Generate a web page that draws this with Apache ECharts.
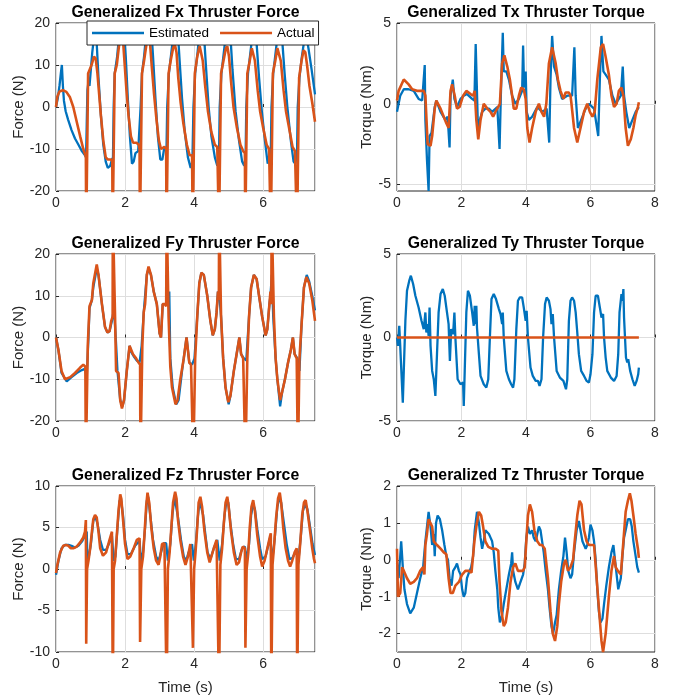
<!DOCTYPE html>
<html>
<head>
<meta charset="utf-8">
<script src="https://cdn.jsdelivr.net/npm/echarts@6/dist/echarts.min.js"></script>
<style>
  html, body { margin: 0; padding: 0; background: #ffffff; }
  #chart { width: 678px; height: 700px; }
</style>
</head>
<body>
<div id="chart"></div>
<script>
// Generalized thruster forces and torques: estimated vs actual, [time (s), value]

const fxEstimated = [[0,0],[0.05,2],[0.1,5],[0.14,8],[0.17,10],[0.2,5],[0.23,1.5],[0.28,-1],[0.35,-3],[0.45,-5.5],[0.55,-7.5],[0.65,-9],[0.75,-10.5],[0.84,-11.5],[0.87,-12],[0.89,-4],[0.91,4],[0.94,6],[0.97,5],[1.0,8],[1.05,13],[1.1,16.5],[1.14,17],[1.18,15],[1.23,7],[1.3,-2],[1.37,-9],[1.44,-13],[1.5,-14.5],[1.57,-14],[1.62,-12.5],[1.65,-12],[1.67,0],[1.7,8],[1.77,12],[1.84,18],[1.9,21],[1.96,20],[2.02,12],[2.08,2],[2.14,-7],[2.2,-13.5],[2.25,-13],[2.3,-11],[2.38,-10.5],[2.43,-10.5],[2.45,0],[2.49,8],[2.55,12],[2.62,18],[2.69,22],[2.75,20],[2.81,12],[2.88,2],[2.95,-7],[3.02,-12.5],[3.08,-12.5],[3.13,-10],[3.2,-10],[3.22,0],[3.27,8],[3.34,13],[3.41,18],[3.47,21],[3.52,19],[3.58,11],[3.65,2],[3.73,-6],[3.82,-12],[3.9,-14.5],[3.95,-13],[3.98,0],[4.03,8],[4.1,13],[4.17,19],[4.23,21],[4.28,18],[4.34,10],[4.42,0],[4.5,-7],[4.6,-12],[4.67,-14],[4.72,-12],[4.74,0],[4.79,8],[4.86,13],[4.93,18],[4.99,20],[5.05,17],[5.11,9],[5.2,-1],[5.3,-8],[5.39,-13],[5.45,-14],[5.49,-12],[5.51,0],[5.56,8],[5.63,13],[5.7,18],[5.76,19],[5.81,15],[5.88,7],[5.96,-1],[6.05,-8],[6.13,-13.5],[6.18,-13.5],[6.22,-11],[6.24,0],[6.29,8],[6.36,13],[6.43,18],[6.49,20],[6.55,16],[6.62,8],[6.7,0],[6.8,-8],[6.88,-13],[6.93,-13.5],[6.98,-11],[7.0,0],[7.05,7],[7.12,12],[7.19,16],[7.25,17],[7.31,14],[7.4,9],[7.5,3]];

const fxActual = [[0,0],[0.04,2.5],[0.1,3.7],[0.2,4],[0.3,3.6],[0.4,2.4],[0.5,0],[0.6,-3.5],[0.7,-7],[0.79,-10],[0.85,-11.5],[0.865,-12],[0.875,-30],[0.89,-30],[0.93,8],[0.98,9],[1.03,10],[1.1,12],[1.15,11.5],[1.2,8],[1.25,3],[1.3,-2],[1.37,-8],[1.44,-12],[1.5,-12.5],[1.6,-12.5],[1.63,-13],[1.64,-30],[1.655,-30],[1.7,8],[1.76,10],[1.83,15],[1.89,17.5],[1.94,16],[1.99,10],[2.04,4],[2.1,-2],[2.17,-7],[2.23,-8.5],[2.33,-8.5],[2.4,-9],[2.42,-10],[2.43,-30],[2.445,-30],[2.49,8],[2.55,11],[2.62,15],[2.67,16.5],[2.72,15.5],[2.77,10],[2.84,3],[2.91,-3],[2.98,-8],[3.04,-10],[3.14,-9.5],[3.19,-10],[3.2,-30],[3.215,-30],[3.26,8],[3.32,11],[3.39,14],[3.44,15],[3.49,13],[3.54,7],[3.61,1],[3.69,-4],[3.79,-9],[3.87,-11.5],[3.94,-11.5],[3.96,-30],[3.975,-30],[4.02,8],[4.09,12],[4.16,14.5],[4.2,14.5],[4.25,11],[4.32,5],[4.4,-1],[4.5,-6],[4.6,-9],[4.67,-9.5],[4.71,-9.5],[4.72,-30],[4.735,-30],[4.78,8],[4.85,11],[4.92,14],[4.96,14.5],[5.01,12],[5.07,6],[5.14,0],[5.24,-5],[5.34,-9],[5.42,-10.5],[5.47,-11],[5.48,-30],[5.495,-30],[5.54,8],[5.61,11],[5.67,14],[5.71,14],[5.76,11],[5.84,4],[5.91,-1],[6.0,-5],[6.1,-9],[6.17,-10],[6.21,-10],[6.22,-30],[6.235,-30],[6.28,8],[6.35,11],[6.41,14],[6.46,14],[6.51,11],[6.59,4],[6.66,-1],[6.75,-5],[6.85,-9.5],[6.92,-10.5],[6.97,-10.5],[6.98,-30],[6.995,-30],[7.04,7],[7.11,11],[7.17,13.5],[7.22,13],[7.27,10],[7.34,5],[7.42,1],[7.5,-3.5]];

const txEstimated = [[0,-0.5],[0.05,0],[0.1,0.5],[0.21,0.9],[0.36,0.9],[0.52,0.8],[0.67,0.3],[0.78,0.2],[0.84,0.3],[0.86,2.4],[0.88,-1],[0.93,-3.5],[0.98,-5.4],[1.01,-2],[1.07,-1.8],[1.17,-0.2],[1.22,0.2],[1.35,-0.5],[1.5,-1],[1.57,-0.8],[1.63,-2.7],[1.66,0.5],[1.73,1.5],[1.78,0.3],[1.86,-0.2],[1.97,0.3],[2.07,0.5],[2.17,0.6],[2.33,0.3],[2.4,0.2],[2.44,3.7],[2.48,3.6],[2.51,-1.5],[2.57,-1],[2.64,-0.5],[2.74,-0.3],[2.85,-0.3],[2.95,-0.5],[3.11,-0.2],[3.18,-2.8],[3.22,0.5],[3.28,4.4],[3.31,2],[3.39,2],[3.47,1.5],[3.57,0.5],[3.67,0],[3.78,0.3],[3.88,0.8],[3.91,3.6],[3.94,1],[3.99,2],[4.02,-0.5],[4.09,-1],[4.19,-0.8],[4.35,-0.2],[4.5,-0.5],[4.64,-0.3],[4.72,-2.4],[4.76,1.5],[4.81,4.2],[4.87,2.3],[4.95,1.8],[5.02,1],[5.12,0.3],[5.28,0.5],[5.43,0.5],[5.5,3.5],[5.54,0.5],[5.61,-1.5],[5.71,-1],[5.85,-0.3],[5.95,0],[6.11,-0.3],[6.24,-2],[6.29,1.5],[6.34,4.2],[6.4,2],[6.47,1.8],[6.57,1.5],[6.68,0.5],[6.78,0],[6.94,0.5],[7.0,2.3],[7.04,0.5],[7.11,-0.5],[7.2,-1.5],[7.3,-1],[7.4,-0.5],[7.5,-0.2]];

const txActual = [[0,0.2],[0.05,0.8],[0.21,1.5],[0.36,1.2],[0.47,0.9],[0.62,0.8],[0.83,0.8],[0.88,0.5],[0.95,-2.5],[1.04,-2.6],[1.09,-2],[1.17,-0.3],[1.22,0.2],[1.35,-0.3],[1.45,-0.8],[1.53,-1.2],[1.6,-1.5],[1.66,0.8],[1.71,1.2],[1.79,0.5],[1.86,-0.3],[1.94,-0.2],[2.05,0.5],[2.15,0.8],[2.28,0.6],[2.36,0.5],[2.41,0.8],[2.46,-1],[2.52,-2.2],[2.59,-1],[2.69,0],[2.8,-0.3],[2.9,-0.5],[2.98,-0.8],[3.05,-0.5],[3.11,-0.6],[3.19,0],[3.26,2.5],[3.33,3],[3.42,2.3],[3.5,1.5],[3.57,0.5],[3.62,-0.3],[3.7,-0.3],[3.78,0.5],[3.85,1],[3.93,0.9],[3.99,0.3],[4.04,-1.5],[4.11,-2.4],[4.19,-1.5],[4.3,-0.5],[4.4,0],[4.48,-0.5],[4.56,-0.8],[4.63,0],[4.71,2.5],[4.81,3.5],[4.92,2.5],[4.99,1.5],[5.07,0.8],[5.16,0.3],[5.23,0.7],[5.33,0.7],[5.38,0.5],[5.41,0],[5.49,-1.5],[5.59,-2.4],[5.69,-1.5],[5.8,-0.5],[5.9,0],[5.98,-0.5],[6.06,-0.8],[6.13,-0.5],[6.21,1.5],[6.32,3.5],[6.39,3.7],[6.46,3],[6.57,1.8],[6.65,0.5],[6.73,-0.2],[6.81,0],[6.88,0.8],[6.96,1],[7.02,0.5],[7.09,-1.5],[7.16,-2.6],[7.25,-2.2],[7.33,-1.5],[7.4,-0.7],[7.47,-0.2],[7.5,0.1]];

const fyEstimated = [[0,0],[0.07,-3],[0.16,-8.5],[0.31,-10.5],[0.45,-9.5],[0.6,-8.5],[0.75,-7.8],[0.84,-7.5],[0.89,-9.5],[0.94,0],[0.97,7],[1.04,9],[1.08,12],[1.18,16.5],[1.23,15],[1.33,8],[1.42,2.5],[1.49,1.2],[1.55,1.5],[1.62,4],[1.68,7],[1.73,0],[1.78,-8],[1.86,-15],[1.92,-16.5],[1.97,-15],[2.05,-8],[2.13,-2],[2.18,-3.5],[2.25,-4.5],[2.34,-5.5],[2.42,-6],[2.48,-2],[2.54,6],[2.63,15],[2.68,16.5],[2.75,15],[2.83,11],[2.92,8],[3.0,1],[3.04,0],[3.09,8],[3.17,8],[3.23,8],[3.28,11],[3.31,-5],[3.38,-12],[3.48,-16],[3.55,-15],[3.65,-8],[3.78,0],[3.81,0],[3.86,-6],[3.94,-6.5],[4.01,-5],[4.09,5],[4.15,13],[4.21,15.5],[4.28,15],[4.38,10],[4.47,4],[4.54,0.5],[4.6,2],[4.65,6],[4.69,11],[4.73,10],[4.78,5],[4.84,-5],[4.91,-12],[5.0,-16],[5.05,-14],[5.15,-8],[5.25,-3],[5.31,0],[5.36,-4],[5.44,-5],[5.51,-5.5],[5.59,5],[5.65,12],[5.73,15],[5.81,14],[5.88,10],[5.97,5],[6.07,0.5],[6.12,2],[6.18,8],[6.21,10],[6.25,15],[6.29,5],[6.36,-5],[6.41,-10],[6.49,-16.5],[6.55,-13],[6.63,-10],[6.72,-6],[6.8,-3],[6.86,0],[6.91,-4],[6.99,-5],[7.05,-8],[7.11,3],[7.18,12],[7.26,15],[7.33,13.5],[7.42,10],[7.5,6.5]];

const fyActual = [[0,0],[0.07,-3],[0.16,-8],[0.26,-10],[0.41,-9.5],[0.55,-8.5],[0.7,-7.2],[0.79,-6.5],[0.85,-7],[0.865,-30],[0.88,-30],[0.92,-2],[0.97,7.5],[1.04,9],[1.08,13],[1.18,17.5],[1.23,15],[1.33,8],[1.42,2.5],[1.49,1.2],[1.55,1.5],[1.6,4],[1.64,5],[1.645,30],[1.66,30],[1.71,5],[1.74,-8],[1.81,-8.5],[1.86,-15],[1.91,-17],[1.97,-15],[2.05,-8],[2.13,-2],[2.18,-3],[2.23,-4],[2.32,-5],[2.39,-6],[2.435,-6.5],[2.445,-30],[2.46,-30],[2.5,-2],[2.54,6],[2.58,8],[2.63,15],[2.68,17],[2.75,15],[2.83,11],[2.92,8],[3.0,1],[3.04,0],[3.09,8],[3.15,8],[3.19,7.5],[3.205,30],[3.22,30],[3.26,5],[3.31,-7],[3.36,-12],[3.46,-16],[3.52,-15],[3.6,-10],[3.7,-5],[3.78,0],[3.81,0],[3.86,-6],[3.91,-6.5],[3.965,-6.5],[3.975,-30],[3.99,-30],[4.03,-5],[4.09,5],[4.15,13],[4.21,15.5],[4.28,15],[4.38,10],[4.47,4],[4.54,0.5],[4.6,2],[4.65,6],[4.69,11],[4.715,9],[4.725,30],[4.74,30],[4.78,5],[4.84,-5],[4.91,-12],[4.99,-15.5],[5.05,-14],[5.15,-8],[5.25,-3],[5.31,0],[5.36,-4],[5.42,-5],[5.475,-5],[5.485,-30],[5.5,-30],[5.54,-5],[5.59,5],[5.65,12],[5.73,15],[5.81,14],[5.88,10],[5.97,5],[6.07,0.5],[6.12,2],[6.18,8],[6.21,11],[6.235,8],[6.245,30],[6.26,30],[6.31,5],[6.36,-5],[6.41,-10],[6.49,-15],[6.55,-13],[6.63,-10],[6.72,-6],[6.8,-3],[6.86,0],[6.91,-4],[6.97,-5],[6.995,-5],[7.005,-30],[7.02,-30],[7.05,-5],[7.11,3],[7.18,12],[7.25,14.5],[7.33,13],[7.42,9],[7.5,4]];

const tyEstimated = [[0,0],[0.03,-0.5],[0.07,0.7],[0.1,-0.5],[0.13,-1.8],[0.18,-3.9],[0.21,-2],[0.26,1],[0.31,2.8],[0.38,3.4],[0.43,3.7],[0.5,3.2],[0.57,2.5],[0.67,1.8],[0.76,1],[0.83,0.5],[0.88,1.5],[0.91,0.3],[0.95,0.8],[0.98,0.1],[1.01,1.8],[1.04,-0.5],[1.09,-2],[1.14,-2.5],[1.19,-3.5],[1.24,-1],[1.29,1.5],[1.35,2.6],[1.42,2.9],[1.48,2.5],[1.55,1.5],[1.6,0.8],[1.64,-1.4],[1.68,0.5],[1.74,0.2],[1.78,1.5],[1.81,0],[1.88,-2.5],[1.97,-2.8],[2.05,-2.7],[2.07,-4.1],[2.1,-2],[2.15,1.5],[2.2,2.8],[2.26,2.5],[2.33,1.5],[2.38,0.7],[2.41,1.9],[2.43,0.8],[2.46,1.9],[2.48,0.6],[2.54,-1],[2.59,-2.3],[2.69,-2.8],[2.77,-3],[2.83,-2.5],[2.88,0],[2.93,2.3],[3.0,2.6],[3.07,2.3],[3.16,1.7],[3.21,1.4],[3.26,0.8],[3.28,1.5],[3.31,0],[3.39,-2],[3.47,-2.5],[3.54,-2.8],[3.6,-3],[3.64,-2.5],[3.7,0.5],[3.75,2.2],[3.81,2.4],[3.88,2.4],[3.93,1.8],[3.99,1],[4.02,1.6],[4.06,0],[4.14,-1.8],[4.21,-2.3],[4.3,-2.6],[4.37,-2.6],[4.42,-2.9],[4.48,-2.5],[4.53,0],[4.59,2],[4.64,2.4],[4.71,2.2],[4.76,1.7],[4.79,0.8],[4.83,1.4],[4.87,0],[4.95,-2],[5.05,-2.4],[5.16,-2.6],[5.24,-3.1],[5.28,-2.5],[5.33,1],[5.38,2.2],[5.43,2.4],[5.49,2.2],[5.54,1.5],[5.59,0.3],[5.64,-1],[5.71,-2],[5.8,-2.3],[5.88,-2.6],[5.95,-2.7],[6.0,-2.2],[6.06,-1],[6.11,1.5],[6.16,2.5],[6.23,2.5],[6.29,1.8],[6.34,1.2],[6.39,1.4],[6.42,0],[6.47,-1.2],[6.52,-2],[6.63,-2.4],[6.73,-2.6],[6.81,-2.3],[6.86,-1],[6.9,1.5],[6.96,2.6],[6.99,2.2],[7.02,2.9],[7.04,1.2],[7.07,0],[7.1,-1.2],[7.14,-1.5],[7.17,-1.3],[7.23,-2],[7.3,-2.5],[7.37,-2.9],[7.43,-2.6],[7.48,-2.2],[7.5,-1.8]];

const tyActual = [[0,0],[7.5,0]];

const fzEstimated = [[0,-0.7],[0.07,1],[0.16,2.5],[0.26,2.9],[0.36,2.9],[0.45,2.8],[0.55,2.6],[0.65,2.8],[0.75,3.3],[0.84,4],[0.89,4.5],[0.91,1],[0.95,1.5],[1.01,3],[1.08,5.8],[1.14,6.3],[1.2,5.5],[1.28,3.5],[1.36,2.3],[1.45,2.3],[1.55,3.2],[1.62,4],[1.67,1],[1.72,1.5],[1.78,5],[1.84,8.2],[1.88,8.5],[1.94,6.5],[2.0,3.5],[2.07,1.8],[2.17,1.8],[2.29,2.8],[2.42,3.4],[2.46,1],[2.52,2],[2.58,5],[2.63,8.2],[2.67,8.7],[2.73,6.5],[2.81,3.5],[2.9,1.5],[2.97,1],[3.04,2],[3.12,3.1],[3.19,3.1],[3.24,1],[3.31,3],[3.37,6.5],[3.43,8.7],[3.48,8.5],[3.53,6.3],[3.62,3.5],[3.7,1.5],[3.77,1],[3.84,2],[3.94,3],[3.99,1],[4.05,3],[4.1,6],[4.16,8.2],[4.2,8.3],[4.26,6.5],[4.33,4],[4.39,2],[4.47,1.2],[4.57,2.5],[4.67,3.5],[4.74,1],[4.81,3],[4.88,6.5],[4.94,8.3],[4.99,8],[5.05,5.5],[5.13,3],[5.21,1.2],[5.3,1.2],[5.39,2.5],[5.47,2.7],[5.51,1],[5.59,3],[5.65,6.5],[5.71,7.8],[5.76,7.2],[5.83,4.8],[5.91,2.5],[5.97,1.2],[6.07,1.5],[6.2,3.8],[6.26,1],[6.33,3.5],[6.41,7.5],[6.47,8.6],[6.52,8],[6.6,5.5],[6.68,3],[6.76,1.2],[6.84,1.3],[6.97,2.3],[7.02,1],[7.09,4],[7.15,7],[7.21,7.8],[7.28,7.2],[7.36,5],[7.43,3],[7.5,1.7]];

const fzActual = [[0,-0.5],[0.04,0.5],[0.12,2],[0.21,2.8],[0.29,2.9],[0.36,2.8],[0.43,2.5],[0.5,2.5],[0.6,2.7],[0.7,3.2],[0.79,3.8],[0.84,4.5],[0.865,5.9],[0.875,-9],[0.89,-9],[0.9,0],[0.94,1],[0.99,2.5],[1.04,4.5],[1.08,6],[1.13,6.5],[1.18,6.2],[1.23,4.5],[1.28,2.5],[1.36,1.6],[1.45,2],[1.55,3.5],[1.62,4.5],[1.635,4.5],[1.645,-15],[1.66,-15],[1.67,0],[1.71,1],[1.76,4],[1.81,7],[1.86,9],[1.89,8.5],[1.94,6],[2.0,3],[2.07,1.2],[2.15,1.5],[2.25,2.5],[2.34,3.5],[2.42,3.7],[2.435,-8.8],[2.445,-8.8],[2.47,0],[2.52,1.5],[2.56,4],[2.61,7.5],[2.65,9.2],[2.7,8],[2.76,5],[2.83,2.5],[2.9,1],[2.97,0.5],[3.02,1.5],[3.07,3],[3.14,3.1],[3.19,3.1],[3.205,-15],[3.22,-15],[3.24,0],[3.29,2],[3.34,5],[3.39,8],[3.45,9.3],[3.49,8.5],[3.53,6],[3.6,3.5],[3.68,1.5],[3.75,0.5],[3.82,1.5],[3.89,3],[3.94,3],[3.965,-9.5],[3.975,-9.5],[4.0,0],[4.04,2],[4.09,5],[4.13,8],[4.18,8.7],[4.23,7.5],[4.3,4.5],[4.38,2],[4.45,0.8],[4.5,1],[4.57,2.5],[4.65,3.5],[4.69,3.5],[4.72,-15],[4.735,-15],[4.76,0.5],[4.81,2.5],[4.86,5.5],[4.91,8],[4.96,8.7],[5.0,7.5],[5.07,4.5],[5.15,2],[5.23,0.5],[5.3,0.8],[5.36,2],[5.41,2.7],[5.47,2.5],[5.485,-9.5],[5.495,-9.5],[5.52,0],[5.57,2],[5.61,5],[5.66,7.5],[5.71,8.3],[5.76,7],[5.83,4],[5.91,1.5],[5.97,0.3],[6.04,1],[6.12,2.5],[6.2,4],[6.22,4.3],[6.235,-15],[6.25,-15],[6.27,0.5],[6.31,2.5],[6.37,6],[6.43,8.5],[6.48,9.2],[6.52,8],[6.58,5],[6.65,2.5],[6.72,1],[6.78,0.3],[6.84,1],[6.91,2],[6.97,2.5],[6.985,-15],[7.0,-15],[7.02,0.5],[7.07,3],[7.13,6.5],[7.18,8],[7.23,8.3],[7.28,7],[7.36,4.5],[7.42,2.5],[7.47,1.2],[7.5,0.7]];

const tzEstimated = [[0,-0.1],[0.05,-0.5],[0.1,0.1],[0.13,0.5],[0.18,-0.2],[0.23,-0.8],[0.31,-1.2],[0.41,-1.45],[0.52,-1.3],[0.62,-0.9],[0.72,-0.5],[0.81,-0.2],[0.88,0.5],[0.93,0.9],[0.98,1.3],[1.04,0.9],[1.09,0.4],[1.14,0.7],[1.17,0.1],[1.21,1.0],[1.26,1.2],[1.33,1.1],[1.4,0.8],[1.47,0.4],[1.53,0.1],[1.58,0],[1.63,-0.5],[1.69,-0.7],[1.74,-0.3],[1.81,-0.2],[1.86,-0.1],[1.92,-0.3],[1.97,-0.4],[2.02,-0.8],[2.07,-1.0],[2.12,-0.9],[2.17,-0.5],[2.25,-0.3],[2.3,-0.2],[2.36,0.1],[2.41,0.8],[2.48,1.3],[2.54,1.0],[2.59,0.6],[2.64,0.3],[2.69,0.5],[2.74,0.8],[2.8,0.85],[2.85,0.7],[2.9,0.6],[2.95,0.5],[3.0,0.2],[3.05,-0.3],[3.11,-0.8],[3.14,-1.3],[3.19,-1.7],[3.26,-1.5],[3.31,-1.2],[3.39,-0.8],[3.47,-0.4],[3.54,-0.1],[3.57,0.2],[3.6,-0.3],[3.67,-0.6],[3.75,-0.8],[3.83,-0.6],[3.91,-0.4],[3.96,-0.1],[4.01,0.6],[4.06,0.9],[4.12,0.7],[4.19,0.8],[4.24,0.6],[4.3,0.5],[4.35,0.7],[4.4,0.9],[4.45,0.8],[4.5,0.5],[4.55,0.2],[4.61,-0.3],[4.68,-0.8],[4.73,-1.3],[4.79,-1.8],[4.84,-2.0],[4.9,-1.7],[4.95,-1.5],[5.02,-0.8],[5.09,-0.3],[5.16,0.1],[5.21,0.6],[5.26,0.2],[5.31,-0.3],[5.38,-0.5],[5.43,-0.4],[5.49,0.2],[5.57,0.8],[5.64,1.05],[5.69,0.8],[5.75,0.5],[5.8,0.4],[5.85,0.3],[5.9,0.4],[5.95,0.6],[6.0,0.95],[6.06,0.8],[6.11,0.5],[6.16,0],[6.21,-0.8],[6.26,-1.4],[6.31,-1.7],[6.37,-1.6],[6.42,-1.2],[6.49,-0.7],[6.57,-0.2],[6.65,0.2],[6.71,0.4],[6.76,0],[6.81,-0.4],[6.86,-0.8],[6.94,-0.5],[6.99,0.1],[7.04,0.6],[7.09,0.8],[7.16,1.1],[7.23,1.1],[7.28,0.9],[7.33,0.5],[7.4,0.1],[7.45,-0.2],[7.5,-0.35]];

const tzActual = [[0,0.3],[0.03,-1.0],[0.1,-0.9],[0.16,-0.2],[0.21,-0.3],[0.31,-0.5],[0.41,-0.65],[0.52,-0.6],[0.62,-0.5],[0.72,-0.3],[0.81,-0.2],[0.85,-0.4],[0.88,0.4],[0.93,0.7],[0.98,1.1],[1.04,1.1],[1.09,0.9],[1.14,0.5],[1.19,0.5],[1.24,0.4],[1.35,0.3],[1.45,0.2],[1.53,0.15],[1.57,0.1],[1.6,-0.5],[1.66,-0.9],[1.73,-0.9],[1.81,-0.7],[1.92,-0.6],[2.02,-0.4],[2.12,-0.3],[2.23,-0.3],[2.31,-0.35],[2.36,-0.4],[2.4,0.5],[2.46,0.9],[2.54,1.3],[2.61,1.2],[2.67,0.9],[2.74,0.5],[2.83,0.35],[2.95,0.3],[3.05,0.3],[3.14,0.25],[3.18,-0.6],[3.24,-1.4],[3.31,-1.8],[3.37,-1.7],[3.44,-1.3],[3.52,-0.6],[3.6,-0.2],[3.67,-0.1],[3.75,-0.3],[3.83,-0.3],[3.91,-0.3],[3.96,-0.2],[4.01,0.5],[4.06,1.2],[4.12,1.5],[4.19,1.3],[4.26,0.8],[4.35,0.5],[4.43,0.4],[4.5,0.4],[4.58,0.3],[4.64,0.3],[4.68,-0.5],[4.76,-1.4],[4.83,-2.0],[4.9,-2.2],[4.97,-1.8],[5.02,-1.2],[5.09,-0.6],[5.18,-0.1],[5.23,0],[5.3,-0.3],[5.38,-0.2],[5.46,0],[5.51,0.5],[5.59,1.2],[5.66,1.6],[5.72,1.5],[5.8,0.8],[5.88,0.5],[5.95,0.4],[6.11,0.4],[6.16,0.4],[6.19,-0.5],[6.26,-1.3],[6.34,-2.2],[6.39,-2.5],[6.47,-2.0],[6.52,-1.5],[6.57,-1.0],[6.65,-0.3],[6.73,0.1],[6.78,-0.2],[6.85,-0.3],[6.94,-0.4],[6.99,-0.4],[7.02,0.5],[7.09,1.3],[7.16,1.6],[7.22,1.8],[7.27,1.6],[7.33,1.2],[7.4,0.7],[7.47,0.3],[7.5,0.05]];

// Axis ranges and tick labels
const forceXMax = 7.5;
const torqueXMax = 8;
const timeTicks = 2;
const fxRange = [-20, 20], fxTicks = [-20, -10, 0, 10, 20];
const fyRange = [-20, 20], fyTicks = [-20, -10, 0, 10, 20];
const fzRange = [-10, 10], fzTicks = [-10, -5, 0, 5, 10];
const txRange = [-5.4, 5], txTicks = [-5, 0, 5];
const tyRange = [-5, 5], tyTicks = [-5, 0, 5];
const tzRange = [-2.5, 2], tzTicks = [-2, -1, 0, 1, 2];

const panelTitles = [
  'Generalized Fx Thruster Force', 'Generalized Tx Thruster Torque',
  'Generalized Fy Thruster Force', 'Generalized Ty Thruster Torque',
  'Generalized Fz Thruster Force', 'Generalized Tz Thruster Torque'
];
const seriesNames = ['Estimated', 'Actual'];

const panels = [
  { est: fxEstimated, act: fxActual, range: fxRange, ticks: fxTicks, xMax: forceXMax, yName: 'Force (N)' },
  { est: txEstimated, act: txActual, range: txRange, ticks: txTicks, xMax: torqueXMax, yName: 'Torque (Nm)' },
  { est: fyEstimated, act: fyActual, range: fyRange, ticks: fyTicks, xMax: forceXMax, yName: 'Force (N)' },
  { est: tyEstimated, act: tyActual, range: tyRange, ticks: tyTicks, xMax: torqueXMax, yName: 'Torque (Nm)' },
  { est: fzEstimated, act: fzActual, range: fzRange, ticks: fzTicks, xMax: forceXMax, yName: 'Force (N)' },
  { est: tzEstimated, act: tzActual, range: tzRange, ticks: tzTicks, xMax: torqueXMax, yName: 'Torque (Nm)' }
];

const FONT = '"Liberation Sans", Arial, Helvetica, sans-serif';
const AXIS_COLOR = '#262626';
const BLUE = '#0072BD';
const ORANGE = '#D95319';

// Plot box layout: columns (left, width), rows (top, height)
const cols = [[56, 259], [397, 258]];
const rows = [[23, 168], [254, 167], [486, 166]];

const grids = [], xAxes = [], yAxes = [], series = [], titles = [];

panels.forEach((p, i) => {
  const col = cols[i % 2], row = rows[Math.floor(i / 2)];
  const isBottom = i >= 4;
  const isTorque = i % 2 === 1;
  grids.push({
    left: col[0], top: row[0], width: col[1], height: row[1],
    show: true, borderColor: AXIS_COLOR, borderWidth: 1, backgroundColor: '#fff'
  });
  titles.push({
    text: panelTitles[i],
    left: col[0] + col[1] / 2, top: row[0] - 18, textAlign: 'center', padding: 0,
    textStyle: { fontFamily: FONT, fontSize: 15.8, fontWeight: 'bold', color: '#000' }
  });
  xAxes.push({
    type: 'value', gridIndex: i, min: 0, max: p.xMax, interval: timeTicks,
    name: isBottom ? 'Time (s)' : '', nameLocation: 'middle', nameGap: 28,
    nameTextStyle: { fontFamily: FONT, fontSize: 15, color: AXIS_COLOR },
    axisLine: { show: false },
    axisTick: { show: true, inside: true, length: 3, lineStyle: { color: AXIS_COLOR, width: 1 } },
    axisLabel: { fontFamily: FONT, fontSize: 14, color: AXIS_COLOR, margin: 5, showMaxLabel: p.xMax % timeTicks === 0 },
    splitLine: { show: true, lineStyle: { color: '#dedede', width: 1 } }
  });
  yAxes.push({
    type: 'value', gridIndex: i, min: p.range[0], max: p.range[1],
    name: p.yName, nameLocation: 'middle', nameGap: isTorque ? 21 : 25,
    nameTextStyle: { fontFamily: FONT, fontSize: 15, color: AXIS_COLOR },
    axisLine: { show: false },
    axisTick: { show: true, inside: true, length: 3, customValues: p.ticks, lineStyle: { color: AXIS_COLOR, width: 1 } },
    axisLabel: { fontFamily: FONT, fontSize: 14, color: AXIS_COLOR, margin: 6, customValues: p.ticks },
    splitLine: { show: true, lineStyle: { color: '#dedede', width: 1 } }
  });
  series.push({
    name: seriesNames[0], type: 'line', xAxisIndex: i, yAxisIndex: i,
    data: p.est, showSymbol: false, symbol: 'none', color: BLUE,
    lineStyle: { color: BLUE, width: 2.3 }, clip: true, z: 2
  });
  series.push({
    name: seriesNames[1], type: 'line', xAxisIndex: i, yAxisIndex: i,
    data: p.act, showSymbol: false, symbol: 'none', color: ORANGE,
    lineStyle: { color: ORANGE, width: 2.6 }, clip: true, z: 3
  });
});

const chart = echarts.init(document.getElementById('chart'), null, { renderer: 'canvas' });
chart.setOption({
  animation: false,
  backgroundColor: '#ffffff',
  title: titles,
  legend: {
    data: seriesNames,
    left: 87, top: 21, orient: 'horizontal',
    icon: 'rect', itemWidth: 52, itemHeight: 2.3, itemGap: 11,
    padding: [5, 4, 5, 5],
    backgroundColor: '#ffffff', borderColor: AXIS_COLOR, borderWidth: 1, borderRadius: 0,
    textStyle: { fontFamily: FONT, fontSize: 13.5, color: '#000' },
    selectedMode: false, z: 10
  },
  grid: grids,
  xAxis: xAxes,
  yAxis: yAxes,
  series: series
});
</script>
</body>
</html>
